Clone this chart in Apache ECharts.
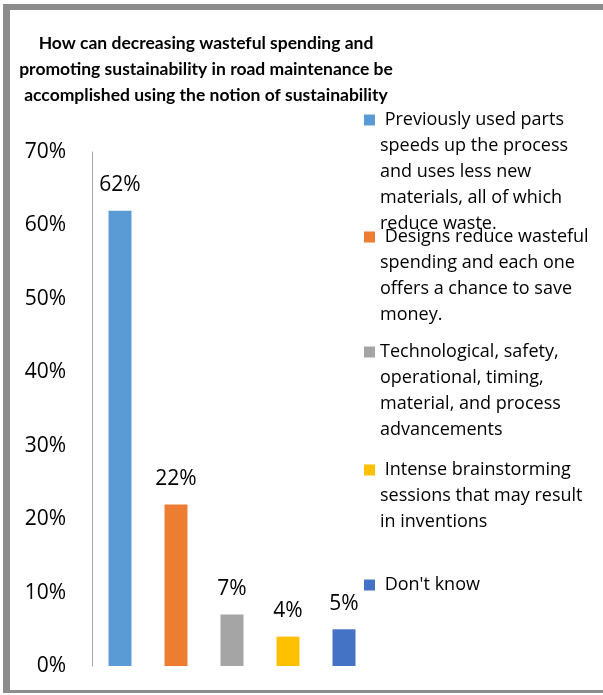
<!DOCTYPE html>
<html>
<head>
<meta charset="utf-8">
<script src="https://cdn.jsdelivr.net/npm/echarts@6/dist/echarts.min.js"></script>
<style>
  html, body { margin: 0; padding: 0; background: #fff; }
  #chart { position: absolute; left: 0; top: 0; width: 603px; height: 695px; }
  #frame {
    position: absolute; left: 3px; top: 4px; width: 620px; height: 680px;
    border-left: 7px solid #8c8c8c; border-top: 6px solid #8c8c8c; border-bottom: 3px solid #8c8c8c;
    pointer-events: none;
  }
</style>
</head>
<body>
<div id="chart"></div>
<div id="frame"></div>
<script>
// Survey answers and their shares
const categories = [
  'Previously used parts speeds up the process and uses less new materials, all of which reduce waste.',
  'Designs reduce wasteful spending and each one offers a chance to save money.',
  'Technological, safety, operational, timing, material, and process advancements',
  'Intense brainstorming sessions that may result in inventions',
  "Don't know"
];
// Wrapped legend text for each answer
const legendLines = [
  [' Previously used parts', 'speeds up the process', 'and uses less new', 'materials, all of which', 'reduce waste.'],
  [' Designs reduce wasteful', 'spending and each one', 'offers a chance to save', 'money.'],
  ['Technological, safety,', 'operational, timing,', 'material, and process', 'advancements'],
  [' Intense brainstorming', 'sessions that may result', 'in inventions'],
  [" Don't know"]
];
const shares = [0.62, 0.22, 0.07, 0.04, 0.05];
const colors = ['#5B9BD5', '#ED7D31', '#A5A5A5', '#FFC000', '#4472C4'];
const yTicks = { min: 0, max: 0.7, step: 0.1 };

const titleText = 'How can decreasing wasteful spending and\npromoting sustainability in road maintenance be\naccomplished using the notion of sustainability';

const FONT = "'Open Sans', sans-serif";
const LINE_H = 26;
const legendFirstLineY = [120, 237, 352, 470, 585];

const chart = echarts.init(document.getElementById('chart'), null, { renderer: 'canvas' });

const series = categories.map((name, i) => ({
  name: name,
  type: 'bar',
  barWidth: 23,
  barGap: '-100%',
  itemStyle: { color: colors[i] },
  label: {
    show: true,
    position: 'top',
    distance: 15,
    fontFamily: FONT,
    fontSize: 21,
    color: '#000',
    formatter: p => Math.round(p.value * 100) + '%'
  },
  data: categories.map((c, j) => (j === i ? shares[i] : null))
}));

// One legend block per answer; blank lines above the text keep the marker level with the first line
const legends = categories.map((name, i) => {
  const n = legendLines[i].length;
  return {
    data: [name],
    orient: 'vertical',
    left: 364,
    top: legendFirstLineY[i] - LINE_H * (2 * n - 1) / 2,
    padding: 0,
    itemWidth: 11,
    itemHeight: 11,
    itemGap: 0,
    icon: 'rect',
    selectedMode: false,
    formatter: () => '\n'.repeat(n - 1) + legendLines[i].join('\n'),
    textStyle: {
      fontFamily: FONT,
      fontSize: 18,
      lineHeight: LINE_H,
      color: '#000'
    }
  };
});

chart.setOption({
  animation: false,
  backgroundColor: '#fff',
  title: {
    text: titleText,
    left: 201,
    top: 25,
    textAlign: 'center',
    textStyle: {
      fontFamily: "Lato, sans-serif",
      fontWeight: 'bold',
      fontSize: 17.5,
      lineHeight: LINE_H,
      color: '#000'
    }
  },
  legend: legends,
  grid: { left: 92, top: 152, width: 280, height: 514, containLabel: false },
  xAxis: {
    type: 'category',
    data: categories,
    axisLine: { show: false },
    axisTick: { show: false },
    axisLabel: { show: false }
  },
  yAxis: {
    type: 'value',
    min: yTicks.min,
    max: yTicks.max,
    interval: yTicks.step,
    axisLine: { show: true, lineStyle: { color: '#a6a6a6', width: 1 } },
    axisTick: { show: false },
    splitLine: { show: false },
    axisLabel: {
      margin: 26,
      fontFamily: FONT,
      fontSize: 21,
      color: '#000',
      formatter: v => Math.round(v * 100) + '%'
    }
  },
  series: series
});
</script>
</body>
</html>
